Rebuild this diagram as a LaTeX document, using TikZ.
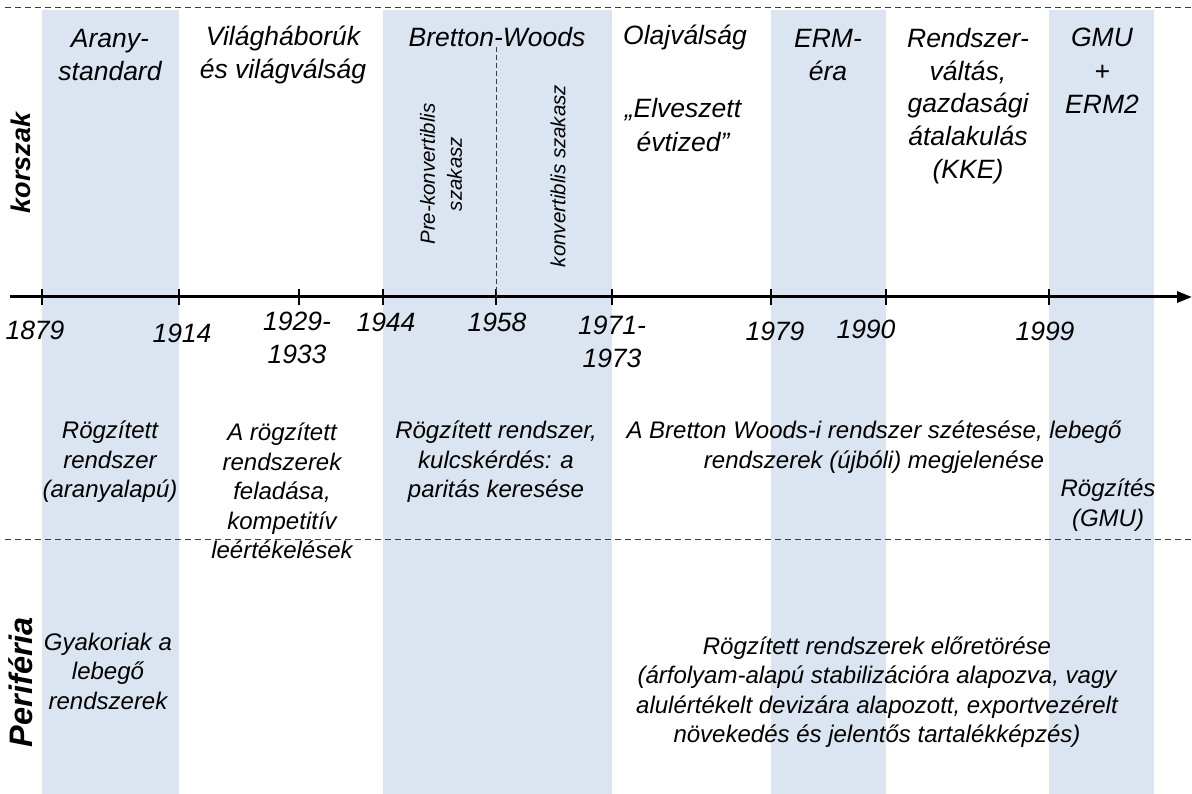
\documentclass[tikz,border=0pt]{standalone}
\usepackage{fontspec}
\setmainfont{Liberation Sans}
\usetikzlibrary{arrows.meta}
\definecolor{bandblue}{RGB}{219,229,241}
\definecolor{sepgray}{RGB}{60,60,60}

\begin{document}
\begin{tikzpicture}[x=1pt, y=-1pt, >={Triangle[length=15pt, width=11pt]},
    toplbl/.style={align=center, inner sep=0pt, font=\fontsize{26.5}{33.5}\selectfont\itshape},
    yearlbl/.style={align=center, inner sep=0pt, font=\fontsize{26.5}{33}\selectfont\itshape},
    desc/.style={align=center, inner sep=0pt, font=\fontsize{24}{29.5}\selectfont\itshape},
    phase/.style={align=center, inner sep=0pt, rotate=90, font=\fontsize{20.5}{27}\selectfont\itshape},
    rowlbl/.style={inner sep=0pt, rotate=90, font=\bfseries\itshape},
    sep/.style={sepgray, line width=1pt, dash pattern=on 6pt off 4pt},
    divider/.style={sepgray, line width=1pt, dash pattern=on 5pt off 3pt},
    tick/.style={line width=1.8pt}]
\useasboundingbox (0,0) rectangle (1192,794);

% Shaded periods
\fill[bandblue] (42,10) rectangle (179,794);
\fill[bandblue] (383,10) rectangle (612,794);
\fill[bandblue] (771,10) rectangle (886,794);
\fill[bandblue] (1049,10) rectangle (1154,794);

% Row separators
\coordinate (topL) at (5,8);
\coordinate (topR) at (1192,8);
\coordinate (midL) at (5,539);
\coordinate (midR) at (1192,539);
\draw[sep] (topL) -- (topR);
\draw[sep] (midL) -- (midR);

% Timeline axis
\coordinate (axisstart) at (10,297);
\coordinate (axisend) at (1192,297);
\draw[->, line width=3pt] (axisstart) -- (axisend);
\foreach \x/\lx/\ly/\t in {42/35/330/1879, 179/182/333/1914, 299/297/338/{1929-\\1933},
    383/386/322/1944, 496/497/322/1958, 612/612/342/{1971-\\1973},
    771/775/331/1979, 886/866/329/1990, 1049/1045/331/1999} {
    \coordinate (t\x) at (\x,297);
    \draw[tick] (\x,289) -- (\x,305);
    \node[yearlbl] (y\x) at (\lx,\ly) {\t};
}

% Periods (korszak)
\node[rowlbl, font=\fontsize{27}{30}\selectfont\bfseries\itshape] (era) at (21,163) {korszak};
\node[toplbl] (gold) at (110,55) {Arany-\\standard};
\node[toplbl] (wars) at (283,55) {Világháborúk\\és világválság};
\node[toplbl] (bw) at (497,37) {Bretton-Woods};
\node[toplbl] (oil) at (685,37) {Olajválság};
\node[toplbl] (lost) at (683,125) {„Elveszett\\évtized”};
\node[toplbl] (erm) at (828,55) {ERM-\\éra};
\node[toplbl, font=\fontsize{26.5}{32.7}\selectfont\itshape] (trans) at (968,106) {Rendszer-\\váltás,\\gazdasági\\átalakulás\\(KKE)};
\node[toplbl] (emu) at (1102,71) {GMU\\+\\ERM2};

% Bretton-Woods phases
\draw[divider] (bw.south -| t496) -- (t496);
\node[phase] (prekonv) at (441,174) {Pre-konvertiblis\\szakasz};
\node[phase] (konv) at (558,176) {konvertiblis szakasz};

% Exchange rate regimes
\node[desc] (goldfix) at (110,462) {Rögzített\\rendszer\\(aranyalapú)};
\node[desc] (devalue) at (282,491) {A rögzített\\rendszerek\\feladása,\\kompetitív\\leértékelések};
\node[desc] (parity) at (496,462) {Rögzített rendszer,\\kulcskérdés: a\\paritás keresése};
\node[desc] (collapse) at (874,447) {A Bretton Woods-i rendszer szétesése, lebegő\\rendszerek (újbóli) megjelenése};
\node[desc] (emufix) at (1108,505) {Rögzítés\\(GMU)};

% Periphery
\node[rowlbl, font=\fontsize{32.5}{34}\selectfont\bfseries\itshape] (periph) at (21,682) {Periféria};
\node[desc] (floatp) at (108,671) {Gyakoriak a\\lebegő\\rendszerek};
\node[desc] (fixp) at (877,692) {Rögzített rendszerek előretörése\\(árfolyam-alapú stabilizációra alapozva, vagy\\alulértékelt devizára alapozott, exportvezérelt\\növekedés és jelentős tartalékképzés)};

\end{tikzpicture}
\end{document}
